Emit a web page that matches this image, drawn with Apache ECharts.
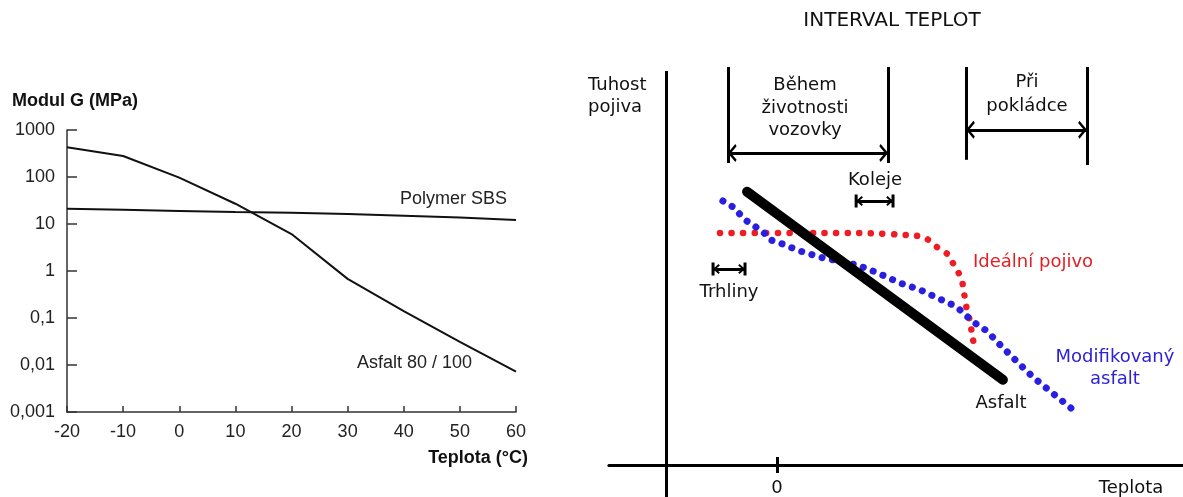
<!DOCTYPE html>
<html><head><meta charset="utf-8">
<script src="https://cdn.jsdelivr.net/npm/echarts@6/dist/echarts.min.js"></script>
<style>html,body{margin:0;padding:0;background:#fff}#c{width:1183px;height:497px}</style>
</head><body><div id="c"></div>
<script>
// ---------- Left chart: shear modulus vs temperature ----------
const temps = [-20, -10, 0, 10, 20, 30, 40, 50, 60];
const asfalt80100 = [430, 280, 97, 27, 6.1, 0.68, 0.14, 0.031, 0.0072];
const polymerSBS = [21, 20, 19, 18, 17.3, 16.3, 15, 13.8, 12.2];
const yTickLabels = ['0,001', '0,01', '0,1', '1', '10', '100', '1000'];

// ---------- Right schematic (arbitrary units: T = temperature, S = stiffness) ----------
const schemAsfalt = [[-7.3, 68.3], [55.1, 21.3]];
const schemModified = [[-13.2, 66], [-10.7, 64.5], [-7.8, 61.3], [-5.9, 60], [-3.4, 58.3], [-1.7, 56.3], [0.7, 55.5],
  [5.6, 53.5], [11.2, 51.8], [19.5, 50], [22.7, 48.8], [26.8, 47], [30, 45.5], [34.9, 43.8], [38, 42.3], [42.9, 40],
  [44.6, 38.8], [47.8, 35.8], [51.2, 33.5], [55.1, 29.3], [62.4, 22], [72.2, 13.8]];
const schemIdeal = [[-13.9, 58], [20, 58], [34.1, 57.3], [36.6, 56.5], [39, 54.5], [41.5, 52.8], [42.9, 50.5],
  [43.9, 48.8], [45.1, 46.3], [45.4, 44.3], [45.9, 41.3], [46.3, 38.8], [47.1, 35.8], [47.8, 31.3], [48.7, 28.5]];
// [T, S_top, S_bottom]
const bracketVerticals = [[-12, 99.5, 75.5], [27.1, 99.5, 75.5], [46.1, 99.5, 76.3], [75.6, 99.5, 75]];
const stiffnessAxis = [[-27.1, 98.5, -8]];
const zeroTick = [[0, 2, -2]];
// [T_from, T_to, S]
const intervalArrows = [[-12, 27.1, 78], [46.1, 75.6, 83.8]];
const damageArrows = [[19.3, 28.3, 66], [-15.6, -7.8, 49]];

const chevron = 'path://M90,-88 M90,0 L180,75 L158,88 L90,32 L22,88 L0,75 Z';
const barArrow = 'path://M65,-68 M0,-15 L130,-15 L130,15 L0,15 Z M65,0 L115,55 L100,68 L65,28 L30,68 L15,55 Z';

function vLines(arr) { return arr.map(a => [{ coord: [a[0], a[1]] }, { coord: [a[0], a[2]] }]); }
function hLines(arr) { return arr.map(a => [{ coord: [a[0], a[2]] }, { coord: [a[1], a[2]] }]); }

const LF = "'Liberation Sans', Arial, sans-serif";
const RF = "'DejaVu Sans', sans-serif";

function txt(text, x, y, opt) {
  opt = opt || {};
  const align = opt.align || 'left';
  return {
    type: 'text', silent: true,
    style: {
      text: text, x: x, y: y,
      font: (opt.weight || 'normal') + ' ' + (opt.size || 18) + 'px ' + (opt.family || RF),
      fill: opt.color || '#111',
      align: align, textAlign: align,
      verticalAlign: 'middle', textVerticalAlign: 'middle',
      lineHeight: opt.lineHeight || 22
    }
  };
}

function markSeries(data, symbol, symbolSize) {
  return {
    type: 'line', xAxisIndex: 1, yAxisIndex: 1, data: [], silent: true,
    markLine: {
      silent: true, animation: false,
      symbol: symbol, symbolSize: symbolSize,
      label: { show: false },
      emphasis: { disabled: true },
      lineStyle: { color: '#000', width: 3, type: 'solid' },
      itemStyle: { color: '#000' },
      data: data
    }
  };
}

const chart = echarts.init(document.getElementById('c'), null, { renderer: 'canvas' });
chart.setOption({
  animation: false,
  backgroundColor: '#fff',
  grid: [
    { left: 67, top: 130, width: 449, height: 282, outerBoundsMode: 'none', containLabel: false },
    { left: 608.9, top: 65, width: 574, height: 432, outerBoundsMode: 'none', containLabel: false }
  ],
  xAxis: [
    {
      gridIndex: 0, type: 'value', min: -20, max: 60, interval: 10,
      axisLine: { onZero: false, lineStyle: { color: '#333', width: 1.5 } },
      axisTick: { inside: true, length: 6, lineStyle: { color: '#333', width: 1.5 } },
      axisLabel: { color: '#222', fontFamily: LF, fontSize: 18, margin: 11 },
      splitLine: { show: false }
    },
    {
      gridIndex: 1, type: 'value', min: -41, max: 99, interval: 41,
      axisLine: { onZero: true, lineStyle: { color: '#000', width: 3 } },
      axisTick: { show: false },
      axisLabel: { show: false },
      splitLine: { show: false }
    }
  ],
  yAxis: [
    {
      gridIndex: 0, type: 'log', logBase: 10, min: 0.001, max: 1000, splitNumber: 6,
      axisLine: { show: true, onZero: false, lineStyle: { color: '#333', width: 1.5 } },
      axisTick: { show: true, inside: true, length: 10, lineStyle: { color: '#333', width: 1.5 } },
      axisLabel: { color: '#222', fontFamily: LF, fontSize: 18, margin: 12, padding: [0, 0, 10, 0],
        formatter: v => yTickLabels[Math.round(Math.log10(v)) + 3] },
      splitLine: { show: false }
    },
    {
      gridIndex: 1, type: 'value', min: -8, max: 100, show: false
    }
  ],
  series: [
    {
      name: 'Asfalt 80 / 100', type: 'line', xAxisIndex: 0, yAxisIndex: 0, symbol: 'none',
      lineStyle: { color: '#111', width: 2 },
      data: temps.map((t, i) => [t, asfalt80100[i]])
    },
    {
      name: 'Polymer SBS', type: 'line', xAxisIndex: 0, yAxisIndex: 0, symbol: 'none',
      lineStyle: { color: '#111', width: 2 },
      data: temps.map((t, i) => [t, polymerSBS[i]])
    },
    {
      name: 'Ideální pojivo', type: 'line', xAxisIndex: 1, yAxisIndex: 1, symbol: 'none', smooth: 0.2,
      lineStyle: { color: '#ee1c24', width: 6.5, type: [0.1, 11.5], cap: 'round' },
      data: schemIdeal
    },
    {
      name: 'Modifikovaný asfalt', type: 'line', xAxisIndex: 1, yAxisIndex: 1, symbol: 'none',
      lineStyle: { color: '#2a1fe0', width: 7, type: [0.1, 10.5], cap: 'round' },
      data: schemModified
    },
    {
      name: 'Asfalt', type: 'line', xAxisIndex: 1, yAxisIndex: 1, symbol: 'none',
      lineStyle: { color: '#000', width: 10, cap: 'round' },
      data: schemAsfalt
    },
    markSeries(vLines(bracketVerticals.concat(stiffnessAxis, zeroTick)), ['none', 'none'], 10),
    markSeries(hLines(intervalArrows), [chevron, chevron], [18, 17.6]),
    markSeries(hLines(damageArrows), [barArrow, barArrow], [13, 13.6])
  ],
  graphic: [
    txt('Modul G (MPa)', 12, 101, { family: LF, weight: 'bold', color: '#111' }),
    txt('Teplota (°C)', 528, 458, { family: LF, weight: 'bold', color: '#111', align: 'right' }),
    txt('Polymer SBS', 400, 199, { family: LF, color: '#222' }),
    txt('Asfalt 80 / 100', 357, 363, { family: LF, color: '#222' }),
    txt('INTERVAL TEPLOT', 892, 21, { size: 20, align: 'center' }),
    txt('Tuhost\npojiva', 588, 96, {}),
    txt('Během\nživotnosti\nvozovky', 805, 108, { align: 'center', lineHeight: 22.5 }),
    txt('Při\npokládce', 1027, 94, { align: 'center', lineHeight: 24 }),
    txt('Koleje', 875, 180, { align: 'center' }),
    txt('Trhliny', 729, 292, { align: 'center' }),
    txt('Ideální pojivo', 973, 262, { color: '#e31e24' }),
    txt('Modifikovaný\nasfalt', 1115, 368, { color: '#2d22d6', align: 'center' }),
    txt('Asfalt', 1001, 403, { align: 'center' }),
    txt('0', 777, 488, { align: 'center' }),
    txt('Teplota', 1131, 488, { align: 'center' })
  ]
});
</script>
</body></html>
